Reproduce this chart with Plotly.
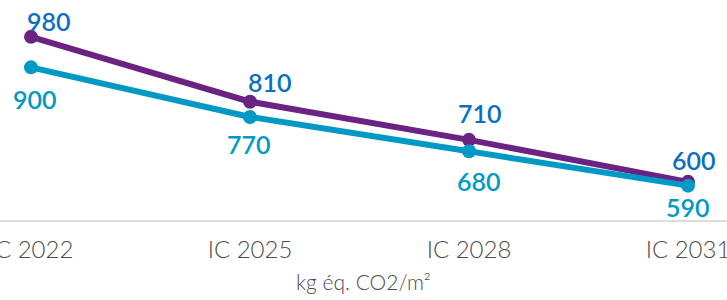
import plotly.graph_objects as go

categories = ["IC 2022", "IC 2025", "IC 2028", "IC 2031"]
series_max = [980, 810, 710, 600]
series_cible = [900, 770, 680, 590]
axis_title = "kg éq. CO2/m²"

PURPLE = "#6a2383"
CYAN = "#0099c6"
LABEL_BLUE = "#0b6fc1"
GREY = "#4d4d4d"

# label offsets (pixels) relative to each point
max_dx = [18, 20, 11, 6]
max_dy = [16, 20, 27, 22]
cib_dx = [4, -1, 10, 0]
cib_dy = [-32, -27, -30, -21]

x_idx = list(range(len(categories)))

fig = go.Figure()
fig.add_trace(go.Scatter(
    x=x_idx, y=series_max, mode="lines+markers",
    line=dict(color=PURPLE, width=6), marker=dict(color=PURPLE, size=14),
    hoverinfo="skip", showlegend=False, cliponaxis=False))
fig.add_trace(go.Scatter(
    x=x_idx, y=series_cible, mode="lines+markers",
    line=dict(color=CYAN, width=6), marker=dict(color=CYAN, size=14),
    hoverinfo="skip", showlegend=False, cliponaxis=False))

annotations = []
for i, v in enumerate(series_max):
    annotations.append(dict(x=x_idx[i], y=v, text=str(v), showarrow=False,
                            xanchor="center", yanchor="middle",
                            xshift=max_dx[i], yshift=max_dy[i],
                            font=dict(family="Lato", size=25, weight=600,
                                      color=LABEL_BLUE)))
for i, v in enumerate(series_cible):
    annotations.append(dict(x=x_idx[i], y=v, text=str(v), showarrow=False,
                            xanchor="center", yanchor="middle",
                            xshift=cib_dx[i], yshift=cib_dy[i],
                            font=dict(family="Lato", size=25, weight=600,
                                      color=CYAN)))

fig.update_layout(
    width=727, height=300,
    margin=dict(l=0, r=0, t=0, b=80, autoexpand=False),
    paper_bgcolor="white", plot_bgcolor="white",
    annotations=annotations,
    xaxis=dict(
        range=[-31 / 219, -31 / 219 + 727 / 219],
        tickvals=x_idx, ticktext=categories,
        ticklabeloverflow="allow", automargin=False,
        ticklabelstandoff=7,
        showgrid=False, zeroline=False,
        showline=True, linecolor="#dcdcdc", linewidth=2,
        ticks="", tickfont=dict(family="Lato", size=24, weight=300, color=GREY),
        title=dict(text=axis_title, standoff=14,
                   font=dict(family="Lato", size=21, weight=300, color=GREY)),
        fixedrange=True),
    yaxis=dict(range=[500, 1076.5], visible=False, showgrid=False,
               zeroline=False, fixedrange=True, automargin=False),
)

fig.write_html("out.html", config={"displayModeBar": False},
               post_script="document.body.style.margin='0';document.body.style.overflow='hidden';")
